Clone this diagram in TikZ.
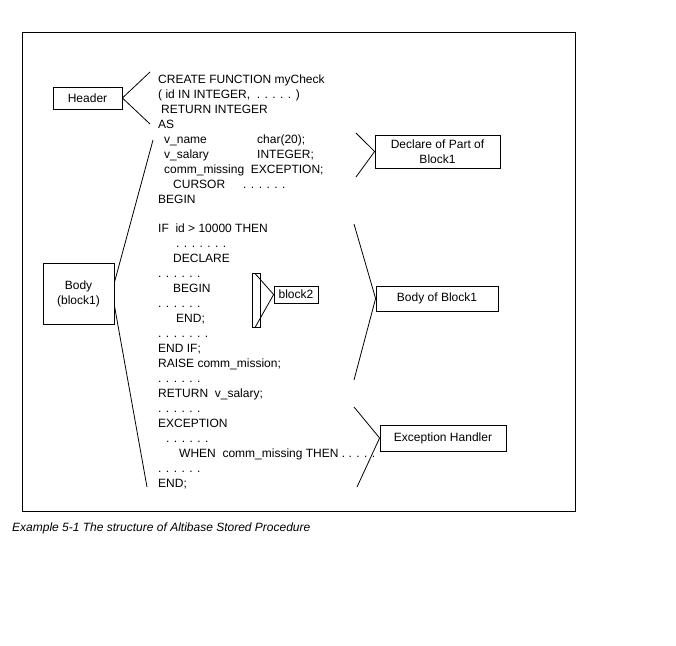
\documentclass[tikz,border=0pt]{standalone}
\usepackage{fontspec}
\setmainfont{Liberation Sans}
\begin{document}
\begin{tikzpicture}[x=1pt,y=-1pt,
  every node/.style={font=\fontsize{12}{15}\selectfont},
  box/.style={draw,line width=0.8pt,inner sep=0pt,align=center},
  code/.style={anchor=base west,inner sep=0pt},
  conn/.style={line width=0.8pt}]
\useasboundingbox (0,0) rectangle (676,645);
\draw[line width=0.9pt] (22,32) rectangle (575,511);

% boxes
\node[box,minimum width=69pt,minimum height=22pt] (header) at (87.5,98) {Header};
\node[box,minimum width=125pt,minimum height=33pt] (decl) at (437.5,151.5) {Declare of Part of\\Block1};
\node[box,minimum width=71pt,minimum height=61pt] (body) at (78.5,293.5) {Body\\(block1)};
\node[box,minimum width=122pt,minimum height=25pt] (bob) at (437,298.5) {Body of Block1};
\node[box,minimum width=126pt,minimum height=26pt] (exc) at (443,438) {Exception Handler};
\node[box,minimum width=44pt,minimum height=17pt] (b2) at (296,294.5) {block2};
\node[box,minimum width=8pt,minimum height=54pt] (brk) at (256.5,300) {};

% code lines
\node[code] (l1) at (158,83) {CREATE FUNCTION myCheck};
\node[code] (l2) at (158,98) {( id IN INTEGER,\ \ . . . . . )};
\node[code] (l3) at (161,113) {RETURN INTEGER};
\node[code] (l4) at (158,128) {AS};
\node[code] (l5) at (164,143) {\makebox[93pt][l]{v\_name}char(20);};
\node[code] (l6) at (164,158) {\makebox[93pt][l]{v\_salary}INTEGER;};
\node[code] (l7) at (164,173) {comm\_missing\ \ EXCEPTION;};
\node[code] (l8) at (173,188) {\makebox[70pt][l]{CURSOR}. . . . . .};
\node[code] (l9) at (158,203) {BEGIN};
\node[code] (l10) at (158,232) {IF\ \ id > 10000 THEN};
\node[code] (l11) at (176,247) {. . . . . . .};
\node[code] (l12) at (173,262) {DECLARE};
\node[code] (l13) at (158,277) {. . . . . .};
\node[code] (l14) at (173,292) {BEGIN};
\node[code] (l15) at (158,307) {. . . . . .};
\node[code] (l16) at (176,322) {END;};
\node[code] (l17) at (158,337) {. . . . . . .};
\node[code] (l18) at (158,352) {END IF;};
\node[code] (l19) at (158,367) {RAISE comm\_mission;};
\node[code] (l20) at (158,382) {. . . . . .};
\node[code] (l21) at (158,397) {RETURN\ \ v\_salary;};
\node[code] (l22) at (158,412) {. . . . . .};
\node[code] (l23) at (158,427) {EXCEPTION};
\node[code] (l24) at (166,442) {. . . . . .};
\node[code] (l25) at (179,457) {WHEN\ \ comm\_missing THEN . . . . .};
\node[code] (l26) at (158,472) {. . . . . .};
\node[code] (l27) at (158,487) {END;};

% caption
\node[code,font=\fontsize{12}{15}\selectfont\itshape] (cap) at (12,531) {Example 5-1 The structure of Altibase Stored Procedure};

% free ends
\coordinate (hU) at (150,72);
\coordinate (hD) at (150,124);
\coordinate (bU) at (153,140);
\coordinate (bD) at (147,487);
\coordinate (dU) at (356,133);
\coordinate (dD) at (356,177);
\coordinate (oU) at (354,224);
\coordinate (oD) at (354,380);
\coordinate (eU) at (354,407);
\coordinate (eD) at (357,487);

% connectors
\draw[conn] (hU) -- (header.east) -- (hD);
\draw[conn] (dU) -- (decl.west) -- (dD);
\draw[conn] (bU) -- ([yshift=11pt]body.east);
\draw[conn] ([yshift=-12pt]body.east) -- (bD);
\draw[conn] (oU) -- (bob.west) -- (oD);
\draw[conn] (eU) -- (exc.west) -- (eD);
\draw[conn] ([xshift=3pt,yshift=-1pt]brk.north west) -- (b2.west) -- ([xshift=3pt]brk.south west);
\end{tikzpicture}
\end{document}
